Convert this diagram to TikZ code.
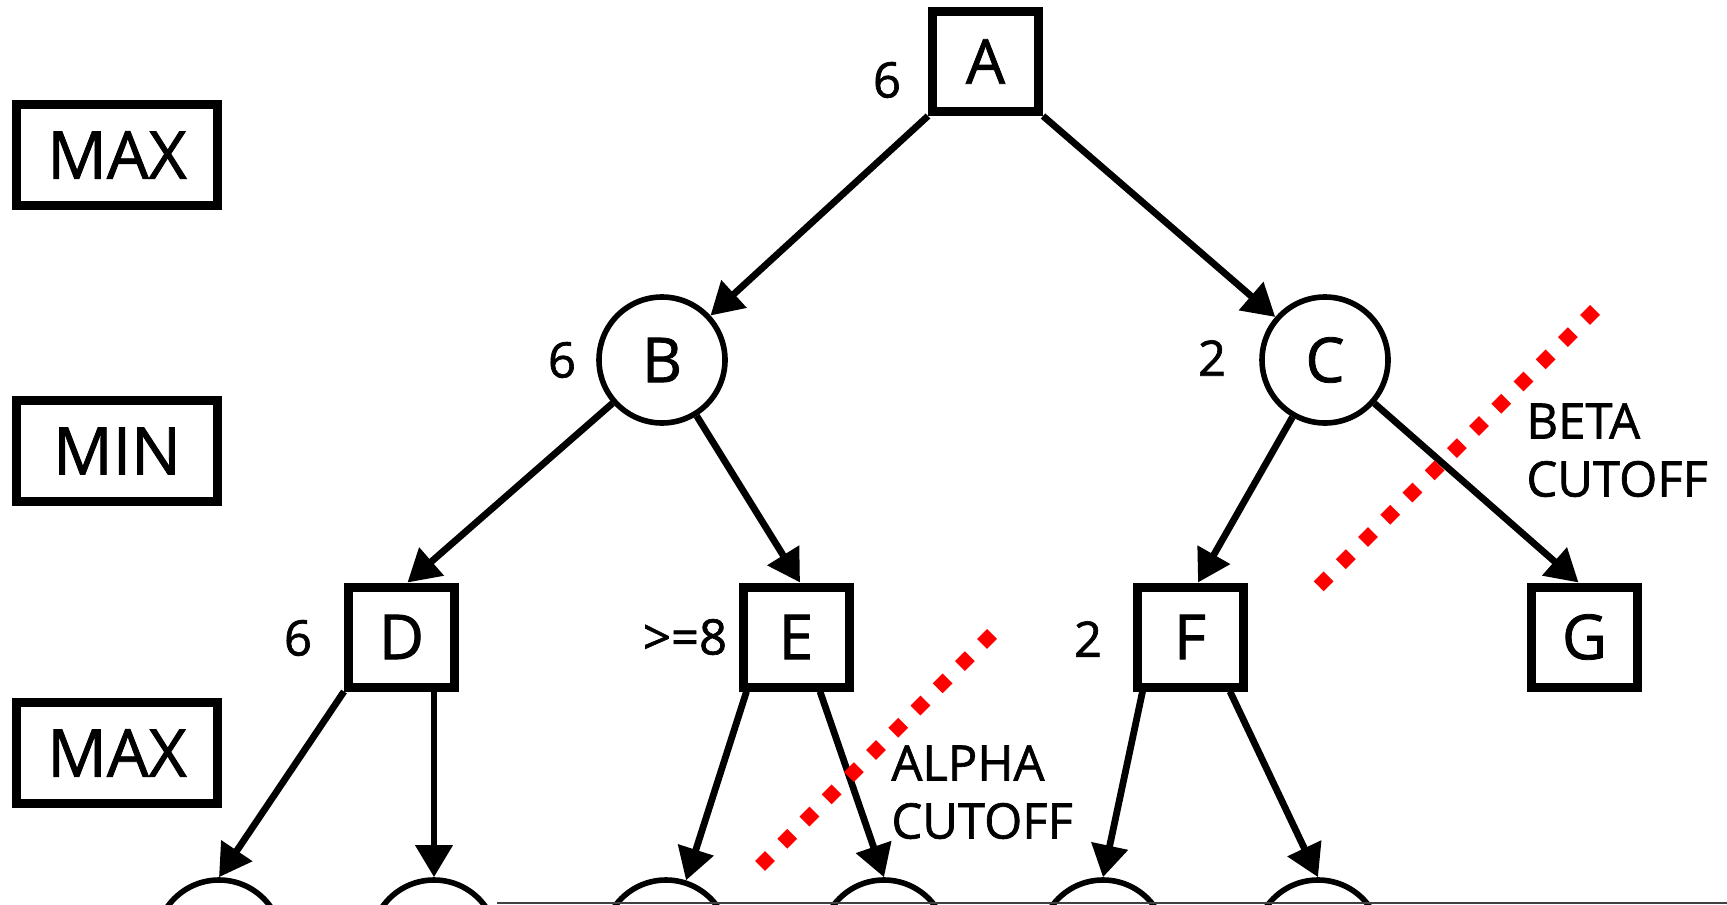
\documentclass[tikz,border=0pt]{standalone}
\usepackage{fontspec}
\setmainfont{Open Sans}[FakeBold=1.3,AutoFakeBold=1.3]
\usetikzlibrary{arrows.meta,calc}
\begin{document}
\begin{tikzpicture}[x=0.5pt,y=-0.5pt,
  maxbox/.style={draw,line width=4.5pt,minimum width=53pt,minimum height=50pt,inner sep=0pt,font=\fontsize{31}{31}\selectfont\bfseries},
  minnode/.style={draw,circle,line width=2.8pt,minimum size=63pt,inner sep=0pt,font=\fontsize{31}{31}\selectfont\bfseries},
  legend/.style={draw,line width=4.8pt,minimum width=100.5pt,minimum height=50.5pt,inner sep=0pt,font=\fontsize{33}{33}\selectfont\bfseries},
  val/.style={font=\fontsize{24.5}{24.5}\selectfont\bfseries,inner sep=0pt},
  edge/.style={line width=3.4pt,-{Triangle[length=16pt,width=18pt]}},
  cut/.style={red,line width=7pt,dash pattern=on 7pt off 8.7pt},
  note/.style={font=\fontsize{24.5}{29}\selectfont,align=left,inner sep=0pt,anchor=north west}]
\useasboundingbox (0,0) rectangle (1727,904);
\clip (0,0) rectangle (1727,904);
% legend
\node[legend] (lmax1) at (117,155) {MAX};
\node[legend] (lmin) at (117,451) {MIN};
\node[legend] (lmax2) at (117,753) {MAX};
% tree nodes
\node[maxbox] (A) at (985.5,61.5) {A};
\node[minnode] (B) at (662,360) {B};
\node[minnode] (C) at (1325,360) {C};
\node[maxbox] (D) at (401.5,637) {D};
\node[maxbox] (E) at (796,637) {E};
\node[maxbox] (F) at (1190,637) {F};
\node[maxbox] (G) at (1584.5,637) {G};
\node[minnode] (L1) at (219,943) {};
\node[minnode] (L2) at (434,943) {};
\node[minnode] (L3) at (666,943) {};
\node[minnode] (L4) at (884,943) {};
\node[minnode] (L5) at (1103,943) {};
\node[minnode] (L6) at (1318,943) {};
% values
\node[val] (vA) at (887,80) {6};
\node[val] (vB) at (562,360) {6};
\node[val] (vC) at (1212,358) {2};
\node[val] (vD) at (298,638) {6};
\node[val] (vE) at (685,637) {>=8};
\node[val] (vF) at (1088,639) {2};
% edges
\draw[edge] (A.south west) -- (B);
\draw[edge] (A.south east) -- (C);
\draw[edge] (B) -- ([xshift=3pt]D.north);
\draw[edge] (B) -- ([xshift=2pt]E.north);
\draw[edge] (C) -- ([xshift=4pt]F.north);
\draw[edge] (C) -- ([xshift=-3pt]G.north);
\draw[edge] (D.south west) -- (L1.north);
\draw[edge] (D.south -| L2.north) -- (L2.north);
\draw[edge] ([xshift=4pt]E.south west) -- (L3);
\draw[edge] ([xshift=12pt]E.south) -- (L4.north);
\draw[edge] ([xshift=5pt]F.south west) -- (L5.north);
\draw[edge] ([xshift=20pt]F.south) -- (L6.north);
% cutoffs
\draw[cut] (1595,310) -- (1318,587);
\draw[cut] (992,634) -- (760,866);
\node[note] (beta) at (1526,403) {BETA\\CUTOFF};
\node[note] (alpha) at (891,745) {ALPHA\\CUTOFF};
% bottom edge line
\draw[line width=1pt,black!75] (497,903) -- (1727,903);
\end{tikzpicture}
\end{document}
